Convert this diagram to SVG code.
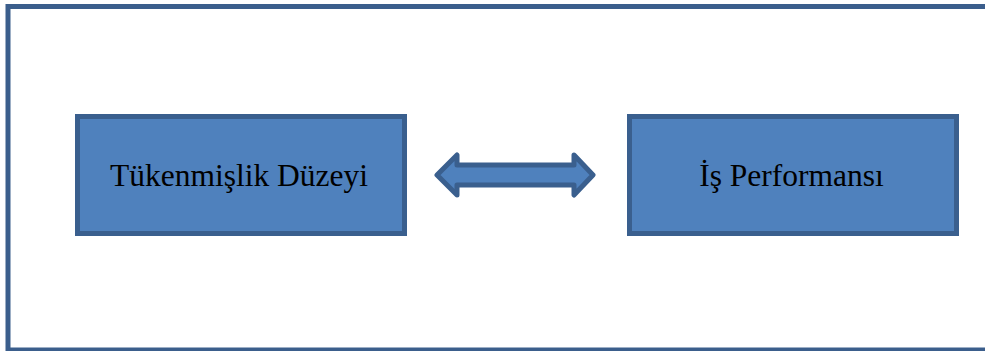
<svg xmlns="http://www.w3.org/2000/svg" width="985" height="351" viewBox="0 0 985 351">
  <style>
    .frame { fill: #ffffff; stroke: #3b5e8c; stroke-width: 5; }
    .box { fill: #4f81bd; stroke: #3a5f8e; stroke-width: 5; }
    .label { font-family: "Liberation Serif", "Times New Roman", serif; font-size: 31.5px; fill: #000000; text-anchor: middle; }
  </style>
  <rect width="985" height="351" fill="#ffffff"/>
  <rect class="frame" x="8" y="6.5" width="990" height="343.5"/>
  <g id="node-tukenmislik">
    <rect class="box" x="77.5" y="116.5" width="327" height="117"/>
    <text class="label" x="239" y="186">Tükenmişlik Düzeyi</text>
  </g>
  <g id="node-performans">
    <rect class="box" x="629.5" y="116.5" width="327" height="117"/>
    <text class="label" x="791.5" y="186">İş Performansı</text>
  </g>
  <g id="connectors">
    <path class="box" stroke-linejoin="round" d="M437,175 L457,155 L457,165 L574,165 L574,155 L593,175 L574,195 L574,185 L457,185 L457,195 Z"/>
  </g>
</svg>
